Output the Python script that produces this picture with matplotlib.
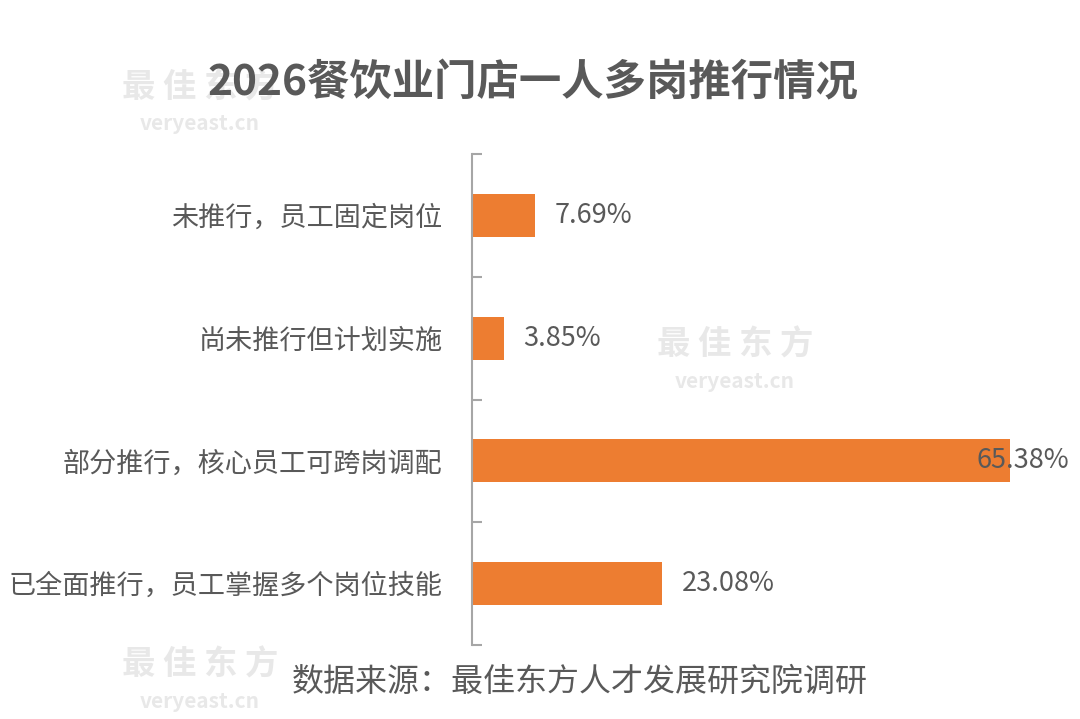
import matplotlib
matplotlib.use("Agg")
import matplotlib.pyplot as plt

plt.rcParams['font.family'] = ['Noto Sans CJK SC', 'DejaVu Sans']

title = "2026餐饮业门店一人多岗推行情况"
source = "数据来源：最佳东方人才发展研究院调研"
categories = ["未推行，员工固定岗位", "尚未推行但计划实施",
              "部分推行，核心员工可跨岗调配", "已全面推行，员工掌握多个岗位技能"]
values = [7.69, 3.85, 65.38, 23.08]
value_labels = ["7.69%", "3.85%", "65.38%", "23.08%"]

BAR = "#ED7D31"
TXT = "#595959"
AX = "#A6A6A6"
WM = "#E8E8E8"

W, H = 1080, 719
fig = plt.figure(figsize=(W / 100, H / 100), dpi=100)
fig.patch.set_facecolor("white")

# faint watermarks
for (x, y) in [(200, 88), (735, 345), (200, 665)]:
    fig.text(x / W, 1 - y / H, "最 佳 东 方", fontsize=24, fontweight='bold',
             color=WM, ha='center', va='center', zorder=0)
    fig.text(x / W, 1 - (y + 36) / H, "veryeast.cn", fontsize=15, fontweight='bold',
             color=WM, ha='center', va='center', zorder=0)

left, right, top, bottom = 472, 1040, 154, 645
ax = fig.add_axes([left / W, 1 - bottom / H, (right - left) / W, (bottom - top) / H])
ax.set_facecolor("none")

pos = list(range(len(categories)))
ax.barh(pos, values, height=0.35, color=BAR, zorder=2)
ax.set_ylim(len(categories) - 0.5, -0.5)
ax.set_xlim(0, 69)

for s in ["top", "right", "bottom"]:
    ax.spines[s].set_visible(False)
ax.spines["left"].set_color(AX)
ax.spines["left"].set_linewidth(1.5)
ax.set_xticks([])
ax.set_yticks(pos)
ax.set_yticklabels(categories, fontsize=19.5, color=TXT)
ax.tick_params(axis='y', which='major', length=0, pad=21)
ax.set_yticks([p - 0.5 for p in pos] + [len(pos) - 0.5], minor=True)
ax.tick_params(axis='y', which='minor', direction='in', length=7, width=1.5, color=AX)

fig.canvas.draw()
renderer = fig.canvas.get_renderer()
for p, v, lab in zip(pos, values, value_labels):
    t = ax.annotate(lab, xy=(v, p), xytext=(14, 0), textcoords='offset points',
                    ha='left', va='center', fontsize=19.5, color=TXT, zorder=5)
    bb = t.get_window_extent(renderer)
    if bb.x1 > W - 8:
        t.remove()
        fig.text((W - 11) / W, ax.transData.transform((v, p))[1] / H, lab,
                 ha='right', va='center', fontsize=19.5, color=TXT, zorder=5)

fig.text(533 / W, 1 - 83 / H, title, fontsize=30.5, fontweight='bold', color=TXT,
         ha='center', va='center')
fig.text(580 / W, 1 - 682 / H, source, fontsize=23, color=TXT,
         ha='center', va='center')

fig.savefig("out.png", dpi=100, facecolor="white")
